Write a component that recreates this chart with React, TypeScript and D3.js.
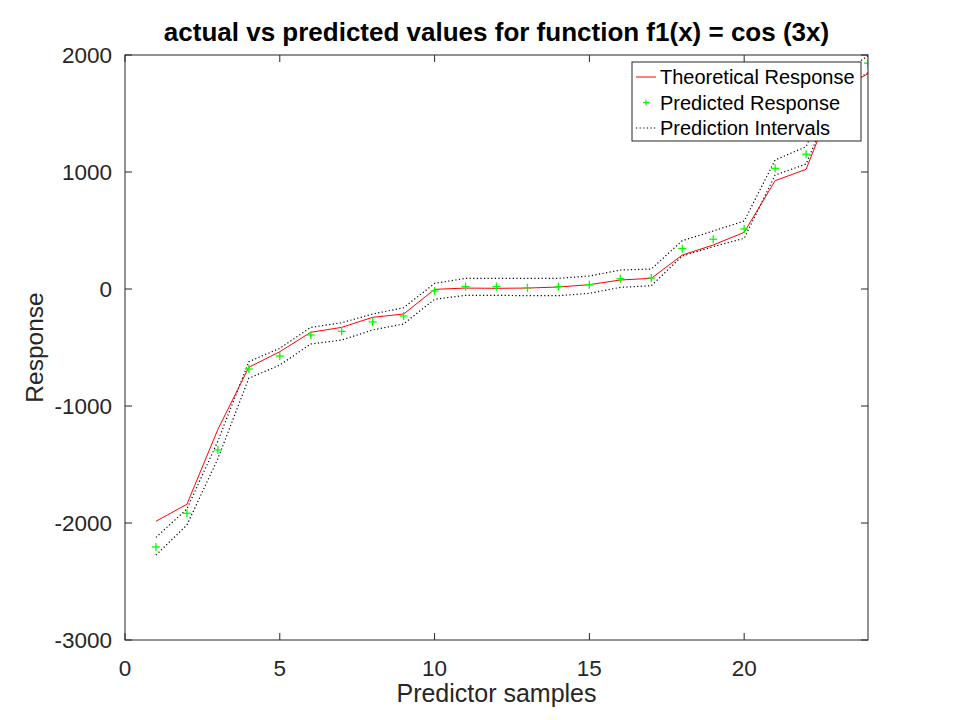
import React from "react";
import * as d3 from "d3";

const xs = [1, 2, 3, 4, 5, 6, 7, 8, 9, 10, 11, 12, 13, 14, 15, 16, 17, 18, 19, 20, 21, 22, 23, 24];
const theoretical = [-1985, -1840, -1200, -669, -536, -370, -328, -242, -214, -3, 8, 6, 8, 17, 37, 77, 91, 290, 376, 484, 926, 1023, 1690, 1840];
const predicted = [-2205, -1917, -1376, -684, -573, -393, -362, -282, -231, -17, 20, 20, 11, 20, 37, 88, 94, 345, 425, 513, 1031, 1152, 1740, 1930];
const upper = [-2123, -1880, -1300, -621, -507, -328, -288, -214, -160, 48, 91, 91, 91, 91, 111, 162, 171, 413, 496, 581, 1103, 1216, 1810, 1994];
const lower = [-2274, -2017, -1450, -763, -650, -470, -436, -350, -299, -88, -54, -54, -57, -57, -37, 14, 28, 282, 362, 433, 974, 1068, 1690, 1849];
const xTicks = [0, 5, 10, 15, 20];
const yTicks = [-3000, -2000, -1000, 0, 1000, 2000];
const titleText = "actual vs predicted values for function f1(x) = cos (3x)";
const xLabel = "Predictor samples";
const yLabel = "Response";
const legendItems = ["Theoretical Response", "Predicted Response", "Prediction Intervals"];

const W = 960, H = 720;
const L = 125, R = 868, T = 55, B = 640;
const AX = "#262626";
const FONT = "'Liberation Sans', Arial, Helvetica, sans-serif";

export default function App() {
  const x = d3.scaleLinear().domain([0, 24]).range([L, R]);
  const y = d3.scaleLinear().domain([-3000, 2000]).range([B, T]);
  const line = d3.line<number>().x((_, i) => x(xs[i])).y((d) => y(d));
  const tl = 7;
  const legX = 632, legY = 62, legW = 229, legH = 79;
  const rowY = [77, 102.5, 128];
  return (
    <div style={{ position: "fixed", left: 0, top: 0 }}>
      <svg width={W} height={H} style={{ display: "block", background: "#fff" }} fontFamily={FONT}>
        <rect x={0} y={0} width={W} height={H} fill="#fff" />
        <defs>
          <clipPath id="plotclip">
            <rect x={L} y={T} width={R - L} height={B - T} />
          </clipPath>
        </defs>
        <g clipPath="url(#plotclip)">
          <path d={line(upper) || ""} fill="none" stroke="#000" strokeWidth={1.2} strokeDasharray="1.2 2.4" />
          <path d={line(lower) || ""} fill="none" stroke="#000" strokeWidth={1.2} strokeDasharray="1.2 2.4" />
          <path d={line(theoretical) || ""} fill="none" stroke="#ff0000" strokeWidth={1} />
          {predicted.map((v, i) => (
            <g key={i} stroke="#00ff00" strokeWidth={1.3}>
              <line x1={x(xs[i]) - 4} x2={x(xs[i]) + 4} y1={y(v)} y2={y(v)} />
              <line x1={x(xs[i])} x2={x(xs[i])} y1={y(v) - 4} y2={y(v) + 4} />
            </g>
          ))}
        </g>
        <rect x={L} y={T} width={R - L} height={B - T} fill="none" stroke={AX} strokeWidth={1} />
        {xTicks.map((t) => (
          <g key={"x" + t} stroke={AX}>
            <line x1={x(t)} x2={x(t)} y1={B} y2={B - tl} />
            <line x1={x(t)} x2={x(t)} y1={T} y2={T + tl} />
          </g>
        ))}
        {yTicks.map((t) => (
          <g key={"y" + t} stroke={AX}>
            <line x1={L} x2={L + tl} y1={y(t)} y2={y(t)} />
            <line x1={R} x2={R - tl} y1={y(t)} y2={y(t)} />
          </g>
        ))}
        {xTicks.map((t) => (
          <text key={"xl" + t} x={x(t)} y={676} textAnchor="middle" fontSize={22.5} fill={AX}>
            {t}
          </text>
        ))}
        {yTicks.map((t) => (
          <text key={"yl" + t} x={112} y={y(t) + 8} textAnchor="end" fontSize={22.5} fill={AX}>
            {t}
          </text>
        ))}
        <text x={(L + R) / 2} y={702} textAnchor="middle" fontSize={25} fill={AX}>
          {xLabel}
        </text>
        <text transform={`translate(43, ${(T + B) / 2}) rotate(-90)`} textAnchor="middle" fontSize={24.5} fill={AX}>
          {yLabel}
        </text>
        <text x={(L + R) / 2} y={41} textAnchor="middle" fontSize={26} fontWeight="bold" fill="#000">
          {titleText}
        </text>
        <rect x={legX} y={legY} width={legW} height={legH} fill="#fff" stroke={AX} strokeWidth={1} />
        <line x1={636} x2={656} y1={rowY[0]} y2={rowY[0]} stroke="#ff0000" strokeWidth={1} />
        <g stroke="#00ff00" strokeWidth={1.2}>
          <line x1={643} x2={649} y1={rowY[1]} y2={rowY[1]} />
          <line x1={646} x2={646} y1={rowY[1] - 3} y2={rowY[1] + 3} />
        </g>
        <line x1={636} x2={656} y1={rowY[2]} y2={rowY[2]} stroke="#000" strokeWidth={1.2} strokeDasharray="1.2 2.4" />
        {legendItems.map((s, i) => (
          <text key={s} x={660} y={rowY[i] + 7} fontSize={20} fill="#000">
            {s}
          </text>
        ))}
      </svg>
    </div>
  );
}
